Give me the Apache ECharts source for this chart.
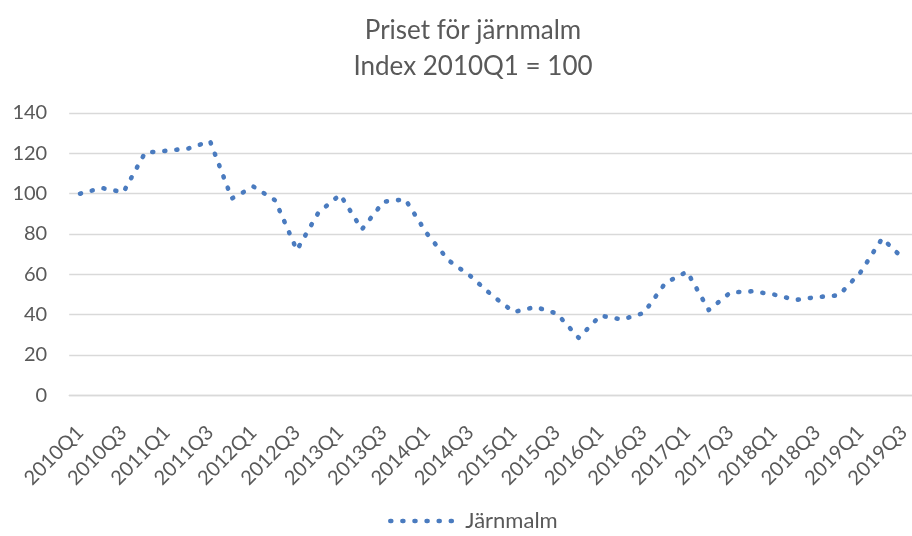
<!DOCTYPE html>
<html>
<head>
<meta charset="utf-8">
<script src="https://cdn.jsdelivr.net/npm/echarts@6/dist/echarts.min.js"></script>
<style>
html,body{margin:0;padding:0;background:#fff;}
#chart{width:912px;height:536px;}
</style>
</head>
<body>
<div id="chart"></div>
<script>
const titleText = 'Priset för järnmalm\nIndex 2010Q1 = 100';
const seriesName = 'Järnmalm';
const categories = [
  '2010Q1','2010Q2','2010Q3','2010Q4',
  '2011Q1','2011Q2','2011Q3','2011Q4',
  '2012Q1','2012Q2','2012Q3','2012Q4',
  '2013Q1','2013Q2','2013Q3','2013Q4',
  '2014Q1','2014Q2','2014Q3','2014Q4',
  '2015Q1','2015Q2','2015Q3','2015Q4',
  '2016Q1','2016Q2','2016Q3','2016Q4',
  '2017Q1','2017Q2','2017Q3','2017Q4',
  '2018Q1','2018Q2','2018Q3','2018Q4',
  '2019Q1','2019Q2','2019Q3'
];
const values = [
  100, 102.8, 100.7, 120.3,
  121.3, 122.4, 126, 97.6,
  103.5, 96.7, 72, 90.7,
  99.5, 82.3, 96, 97.2,
  80.2, 66.9, 59.2, 49.6,
  41.3, 43.8, 40.5, 28.5,
  39.5, 37.6, 40.8, 55.7,
  61.3, 42.3, 51, 51.6,
  50, 47.3, 48.7, 49.6,
  61, 77.8, 67.5
];
const yMin = 0, yMax = 140, yStep = 20;

const FONT = 'Lato';
const TXT = '#595959';
const BLUE = '#4a7bbf';
const dotStyle = { color: BLUE, width: 4.6, type: [1, 11.1], cap: 'round', join: 'round' };

const chart = echarts.init(document.getElementById('chart'), null, { renderer: 'canvas' });
chart.setOption({
  animation: false,
  backgroundColor: '#ffffff',
  title: {
    text: titleText,
    left: 473,
    top: 12,
    padding: 0,
    textAlign: 'center',
    textStyle: { fontFamily: FONT, fontSize: 26, fontWeight: 'normal', color: TXT, lineHeight: 36.5 }
  },
  legend: {
    left: 388,
    top: 510,
    padding: 0,
    itemWidth: 70,
    itemHeight: 14,
    itemGap: 10,
    textStyle: { fontFamily: FONT, fontSize: 22, color: TXT },
    lineStyle: dotStyle,
    itemStyle: { color: 'rgba(0,0,0,0)', opacity: 0, borderWidth: 0 },
    data: [seriesName]
  },
  grid: { left: 69.2, right: -2.7, top: 113, bottom: 140.7, containLabel: false, outerBoundsMode: 'none' },
  xAxis: {
    type: 'category',
    data: categories,
    boundaryGap: true,
    axisLine: { show: true, lineStyle: { color: '#d9d9d9', width: 1.3 } },
    axisTick: { show: false },
    axisLabel: {
      interval: 1,
      rotate: 45,
      margin: 34,
      fontFamily: FONT,
      fontSize: 20,
      color: TXT
    },
    splitLine: { show: false }
  },
  yAxis: {
    type: 'value',
    min: yMin,
    max: yMax,
    interval: yStep,
    axisLine: { show: false },
    axisTick: { show: false },
    axisLabel: { margin: 22, fontFamily: FONT, fontSize: 20, color: TXT },
    splitLine: { lineStyle: { color: '#d9d9d9', width: 1.3 } }
  },
  series: [{
    name: seriesName,
    type: 'line',
    data: values,
    symbol: 'none',
    smooth: false,
    lineStyle: dotStyle,
    itemStyle: { color: BLUE }
  }]
});
</script>
</body>
</html>
